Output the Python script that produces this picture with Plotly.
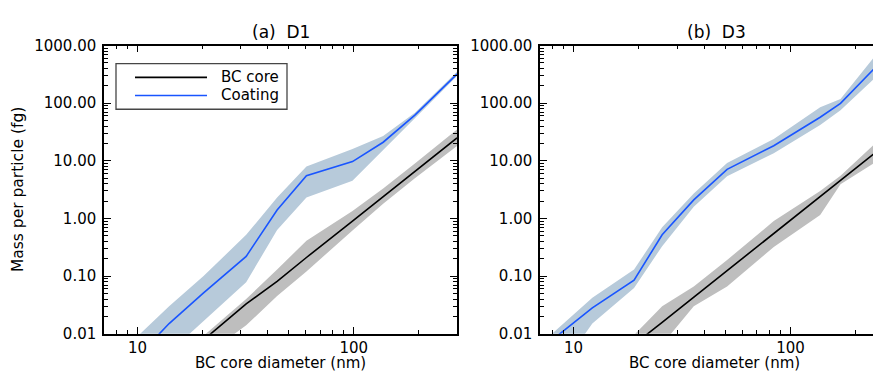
import plotly.graph_objects as go
import numpy as np

# ---------------- data ----------------
# Panel (a) D1
d1_diam = [10, 14, 20.2, 31.8, 44.2, 60.4, 98.6, 136.7, 191.6, 300]
d1_coat = [0.004, 0.015, 0.051, 0.22, 1.4, 5.5, 9.7, 21, 62, 320]
d1_coat_hi = [0.009, 0.03, 0.10, 0.52, 2.3, 8.0, 16, 27, 68, 350]
d1_coat_lo = [0.0015, 0.005, 0.017, 0.078, 0.63, 2.3, 4.5, 15, 54, 295]
d1_core = [0.0009, 0.0026, 0.0078, 0.033, 0.081, 0.21, 0.90, 2.4, 6.6, 25]
d1_core_hi = [0.002, 0.003, 0.0092, 0.040, 0.13, 0.41, 1.35, 3.3, 9.0, 35]
d1_core_lo = [0.0004, 0.0012, 0.004, 0.014, 0.045, 0.12, 0.62, 1.8, 5.0, 18]

# Panel (b) D3
d3_diam = [7, 12.2, 19.0, 25.6, 35.8, 51.0, 83.7, 137, 170, 262, 300]
d3_coat = [0.0053, 0.028, 0.085, 0.52, 2.1, 7.1, 18.3, 57, 99, 560, 900]
d3_coat_hi = [0.0065, 0.042, 0.13, 0.7, 2.7, 9.2, 24, 85, 118, 900, 1500]
d3_coat_lo = [0.0008, 0.015, 0.062, 0.33, 1.6, 5.4, 13.5, 42, 75, 350, 560]
d3_core = [0.0003, 0.0017, 0.0065, 0.0158, 0.043, 0.125, 0.55, 2.4, 4.6, 17, 25]
d3_core_hi = [0.0008, 0.004, 0.0095, 0.030, 0.066, 0.19, 0.9, 3.0, 5.5, 26, 40]
d3_core_lo = [0.0001, 0.0006, 0.002, 0.0065, 0.030, 0.066, 0.32, 1.15, 3.9, 11, 16]

# axis ticks
y_tickvals = [0.01, 0.1, 1, 10, 100, 1000]
y_ticktext = ["0.01", "0.10", "1.00", "10.00", "100.00", "1000.00"]
x_tickvals = [10, 100]
x_ticktext = ["10", "100"]
x_minor = [7, 8, 9, 20, 30, 40, 50, 60, 70, 80, 90, 200, 300]
y_minor = [m * 10.0 ** e for e in range(-2, 3) for m in range(2, 10)]

series_names = ["BC core", "Coating"]
panel_titles = ["(a)\u00a0\u00a0D1", "(b)\u00a0\u00a0D3"]
x_title = "BC core diameter (nm)"
y_title = "Mass per particle (fg)"

# ---------------- styling ----------------
# The page body keeps its default 8 px margin, so the figure is made 16 px
# smaller than the 881x384 window: the page is then exactly window-sized.
OFF = 8
W, H = 881 - 2 * OFF, 384 - 2 * OFF
FONT = "DejaVu Sans"
BLUE = "rgb(25,85,255)"
BLUE_BAND = "rgb(183,202,218)"
GRAY_BAND = "rgb(190,190,190)"

def px(x):
    return (x - OFF) / W

def py(y):
    return 1 - (y - OFF) / H

fig = go.Figure()

def add_panel(diam, core, core_hi, core_lo, coat, coat_hi, coat_lo, xa, ya):
    fig.add_trace(go.Scatter(x=diam + diam[::-1], y=coat_hi + coat_lo[::-1],
                             fill="toself", fillcolor=BLUE_BAND, mode="lines",
                             line=dict(width=0), hoverinfo="skip", showlegend=False,
                             xaxis=xa, yaxis=ya))
    fig.add_trace(go.Scatter(x=diam + diam[::-1], y=core_hi + core_lo[::-1],
                             fill="toself", fillcolor=GRAY_BAND, mode="lines",
                             line=dict(width=0), hoverinfo="skip", showlegend=False,
                             xaxis=xa, yaxis=ya))
    fig.add_trace(go.Scatter(x=diam, y=core, mode="lines", name=series_names[0],
                             line=dict(color="black", width=1.6), showlegend=False,
                             xaxis=xa, yaxis=ya))
    fig.add_trace(go.Scatter(x=diam, y=coat, mode="lines", name=series_names[1],
                             line=dict(color=BLUE, width=1.6), showlegend=False,
                             xaxis=xa, yaxis=ya))

add_panel(d1_diam, d1_core, d1_core_hi, d1_core_lo, d1_coat, d1_coat_hi, d1_coat_lo, "x", "y")
add_panel(d3_diam, d3_core, d3_core_hi, d3_core_lo, d3_coat, d3_coat_hi, d3_coat_lo, "x2", "y2")

ydom = [py(341), py(38)]
tickfont = dict(family=FONT, size=15, color="black")

def xaxis(dom, rng, anchor):
    return dict(type="log", domain=dom, range=[np.log10(rng[0]), np.log10(rng[1])],
                anchor=anchor, tickmode="array", tickvals=x_tickvals, ticktext=x_ticktext,
                ticks="inside", ticklen=7, tickwidth=1.2, tickcolor="black",
                showline=True, linecolor="black", linewidth=1.5, mirror="ticks",
                showgrid=False, zeroline=False, tickfont=tickfont, ticklabelstandoff=0,
                minor=dict(tickmode="array", tickvals=x_minor, ticks="inside", ticklen=4,
                           tickwidth=1.2, tickcolor="black", showgrid=False))

def yaxis(anchor, mirror):
    return dict(type="log", domain=ydom, range=[-2, 3], anchor=anchor,
                tickmode="array", tickvals=y_tickvals, ticktext=y_ticktext,
                ticks="inside", ticklen=7, tickwidth=1.2, tickcolor="black",
                showline=True, linecolor="black", linewidth=1.5, mirror=mirror,
                showgrid=False, zeroline=False, tickfont=tickfont, ticklabelstandoff=3,
                minor=dict(tickmode="array", tickvals=y_minor, ticks="inside", ticklen=4,
                           tickwidth=1.2, tickcolor="black", showgrid=False))

# right panel: same scale as the left one; its right part runs out of the picture
fig.update_layout(
    width=W, height=H, margin=dict(l=0, r=0, t=0, b=0),
    paper_bgcolor="white", plot_bgcolor="white", showlegend=False,
    font=dict(family=FONT, color="black"),
    xaxis=xaxis([px(104), px(457)], (7, 300), "y"),
    yaxis=yaxis("x", "ticks"),
    xaxis2=xaxis([px(540), 1.0], (7, 240), "y2"),
    yaxis2=yaxis("x2", False),
)

ann = []
ann.append(dict(text=panel_titles[0], x=px(280.5), y=py(24), xref="paper", yref="paper",
                showarrow=False, font=dict(family=FONT, size=17), xanchor="center", yanchor="middle"))
ann.append(dict(text=panel_titles[1], x=px(716.5), y=py(24), xref="paper", yref="paper",
                showarrow=False, font=dict(family=FONT, size=17), xanchor="center", yanchor="middle"))
ann.append(dict(text=x_title, x=px(280.5), y=py(372), xref="paper", yref="paper",
                showarrow=False, font=dict(family=FONT, size=15), xanchor="center", yanchor="middle"))
ann.append(dict(text=x_title, x=px(714), y=py(372), xref="paper", yref="paper",
                showarrow=False, font=dict(family=FONT, size=15), xanchor="center", yanchor="middle"))
ann.append(dict(text=y_title, x=px(18), y=py(190), xref="paper", yref="paper", textangle=-90,
                showarrow=False, font=dict(family=FONT, size=15.5), xanchor="center", yanchor="middle"))
ann.append(dict(text=series_names[0], x=px(219), y=py(71.5), xref="paper", yref="paper",
                showarrow=False, font=dict(family=FONT, size=15), xanchor="left", yanchor="middle"))
ann.append(dict(text=series_names[1], x=px(219), y=py(90.5), xref="paper", yref="paper",
                showarrow=False, font=dict(family=FONT, size=15), xanchor="left", yanchor="middle"))
fig.update_layout(annotations=ann)

fig.add_shape(type="rect", xref="paper", yref="paper", x0=px(116), x1=px(287), y0=py(105), y1=py(57),
              line=dict(color="rgb(70,70,70)", width=1.3), fillcolor="white", layer="above")
fig.add_shape(type="line", xref="paper", yref="paper", x0=px(135), x1=px(207), y0=py(71.5), y1=py(71.5),
              line=dict(color="black", width=1.6), layer="above")
fig.add_shape(type="line", xref="paper", yref="paper", x0=px(135), x1=px(207), y0=py(90.5), y1=py(90.5),
              line=dict(color=BLUE, width=1.6), layer="above")

fig.write_html("out.html", config={"displayModeBar": False})
